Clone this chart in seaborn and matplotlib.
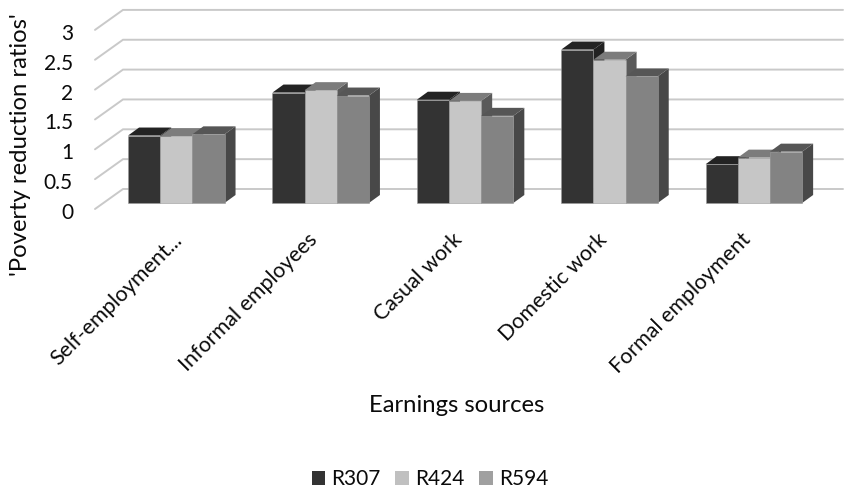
import matplotlib
matplotlib.use("Agg")
import matplotlib.pyplot as plt
from matplotlib.patches import Patch, Polygon
from matplotlib.transforms import ScaledTranslation
import pandas as pd
import seaborn as sns

categories = ["Self-employment...", "Informal employees", "Casual work", "Domestic work", "Formal employment"]
series_names = ["R307", "R424", "R594"]
r307 = [1.13, 1.85, 1.73, 2.57, 0.65]
r424 = [1.12, 1.89, 1.71, 2.40, 0.76]
r594 = [1.15, 1.80, 1.46, 2.12, 0.86]
y_ticks = [0, 0.5, 1, 1.5, 2, 2.5, 3]
y_tick_labels = ["0", "0.5", "1", "1.5", "2", "2.5", "3"]

front_colors = ["#333333", "#c6c6c6", "#838383"]
top_colors = ["#232323", "#7c7c7c", "#565656"]
side_colors = ["#222222", "#5a5a5a", "#484848"]
legend_colors = ["#333333", "#c0c0c0", "#a0a0a0"]
grid_color = "#c9c9c9"
text_color = "#0a0a0a"

W, H = 844, 491
PX_PER_UNIT = 59.7
GROUP_STEP = 144.4
GROUP0_X = 176.3
BASE_Y = 203
WALL_Y = 209
LEFT, RIGHT, BOTTOM = 95, 843, 222
FS_TICK = 15.4
FS_Y = 15
FS_TITLE = 17.2
FS_LEG = 15
LABEL_SHIFT_X = [-4, -13, -13, -13, -13]

sns.set_theme(style="white")
plt.rcParams["font.family"] = ["Lato", "DejaVu Sans"]

fig = plt.figure(figsize=(W / 100, H / 100), dpi=100)
rect = [LEFT / W, 1 - BOTTOM / H, (RIGHT - LEFT) / W, BOTTOM / H]
wall = fig.add_axes(rect, zorder=0)
ax = fig.add_axes(rect, zorder=1)
ax.patch.set_alpha(0)

# back wall and slanted floor/side gridlines
DEPTH_X, DEPTH_Y = 28, 20
wall.set_xlim(0, RIGHT - LEFT)
wall.set_ylim((WALL_Y - BOTTOM) / PX_PER_UNIT, WALL_Y / PX_PER_UNIT)
for v in y_ticks:
    wall.plot([0, DEPTH_X, RIGHT - LEFT], [v, v + DEPTH_Y / PX_PER_UNIT, v + DEPTH_Y / PX_PER_UNIT],
              color=grid_color, lw=1.4, solid_joinstyle="miter", clip_on=False)
wall.set_xticks([])
wall.set_yticks(y_ticks, y_tick_labels, fontsize=FS_Y, color=text_color)
wall.tick_params(axis="y", length=0, pad=(LEFT - 73) * 0.72)
for lab in wall.get_yticklabels():
    lab.set_transform(lab.get_transform() + ScaledTranslation(0, -2 / 100, fig.dpi_scale_trans))
sns.despine(ax=wall, left=True, bottom=True, top=True, right=True)

# bars
df = pd.DataFrame({
    "source": categories * 3,
    "series": [s for s in series_names for _ in categories],
    "value": r307 + r424 + r594,
})
sns.barplot(data=df, x="source", y="value", hue="series", order=categories, hue_order=series_names,
            palette=front_colors, width=0.668, gap=0, saturation=1, errorbar=None,
            legend=False, ax=ax, linewidth=0)
ax.set_xlim((LEFT - GROUP0_X) / GROUP_STEP, (RIGHT - GROUP0_X) / GROUP_STEP)
ax.set_ylim((BASE_Y - BOTTOM) / PX_PER_UNIT, BASE_Y / PX_PER_UNIT)

dx, dy = 11 / GROUP_STEP, 8 / PX_PER_UNIT
z = 3
for g in range(len(categories)):
    for s, cont in enumerate(ax.containers):
        bar = cont[g]
        x0, w, h = bar.get_x(), bar.get_width(), bar.get_height()
        x1 = x0 + w
        side = Polygon([(x1, 0), (x1 + dx, dy), (x1 + dx, h + dy), (x1, h)], closed=True,
                       fc=side_colors[s], ec="none", zorder=z)
        top = Polygon([(x0, h), (x0 + dx, h + dy), (x1 + dx, h + dy), (x1, h)], closed=True,
                      fc=top_colors[s], ec="none", zorder=z)
        ax.add_patch(side)
        ax.add_patch(top)
        bar.set_zorder(z + 1)
        bar.set_edgecolor("#9a9a9a")
        bar.set_linewidth(0.4)
        z += 2

ax.set_yticks([])
ax.set_ylabel("")
ax.set_xticks(range(len(categories)), categories, rotation=45, ha="right",
              rotation_mode="anchor", fontsize=FS_TICK, color=text_color)
ax.tick_params(axis="x", length=0, pad=5.5)
for lab, sx in zip(ax.get_xticklabels(), LABEL_SHIFT_X):
    lab.set_transform(lab.get_transform() + ScaledTranslation(sx / 100, 0, fig.dpi_scale_trans))
ax.set_xlabel("Earnings sources", fontsize=FS_TITLE, color=text_color, va="center")
ax.xaxis.set_label_coords(457 / W, 1 - 406 / H, transform=fig.transFigure)
sns.despine(ax=ax, left=True, bottom=True, top=True, right=True)

fig.text(20.5 / W, 1 - 145 / H, "'Poverty reduction ratios'", rotation=90, ha="center", va="center",
         fontsize=FS_TITLE, color=text_color)

handles = [Patch(fc=c, ec="none", label=n) for c, n in zip(legend_colors, series_names)]
fig.legend(handles=handles, loc="center", bbox_to_anchor=(430 / W, 1 - 479 / H), ncol=3, frameon=False,
           fontsize=FS_LEG, handlelength=0.65, handleheight=0.65, handletextpad=0.3,
           columnspacing=0.7, labelcolor=text_color)

fig.savefig("out.png", dpi=100)
